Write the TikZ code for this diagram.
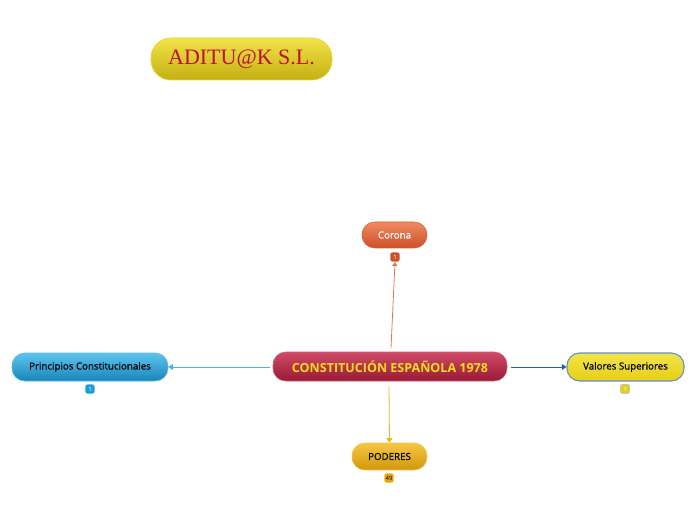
\documentclass[tikz,border=0pt]{standalone}
\usepackage{fontspec}
\setmainfont{Open Sans}
\newfontfamily\semib[FakeBold=0.7]{Open Sans}
\newfontfamily\serifont{Liberation Serif}
\usetikzlibrary{arrows.meta,shadings}
\definecolor{crim}{HTML}{B31E40}
\definecolor{crimtop}{HTML}{D04A66}
\definecolor{gold}{HTML}{F5DC1A}
\definecolor{orng}{HTML}{E3582C}
\definecolor{orngtop}{HTML}{F08A62}
\definecolor{bluel}{HTML}{1D9DD8}
\definecolor{bluetop}{HTML}{5CC4F0}
\definecolor{yel}{HTML}{E6CF14}
\definecolor{yeltop}{HTML}{F2E34A}
\definecolor{amb}{HTML}{E8A80C}
\definecolor{ambtop}{HTML}{F6C742}
\definecolor{dblue}{HTML}{1F5FB5}
\definecolor{logotxt}{HTML}{C01030}
\tikzset{
  topic/.style={rounded corners=9.5pt, inner sep=0pt, align=center},
  badge/.style={rounded corners=1.8pt, minimum width=7pt, minimum height=7pt, inner sep=0pt, font=\fontsize{4.5}{4.5}\selectfont},
  conn/.style={line width=0.6pt},
  subtxt/.style={font=\semib\fontsize{7.3}{7.3}\selectfont},
}
\begin{document}
\begin{tikzpicture}[x=0.75pt,y=-0.75pt]
\useasboundingbox (0,0) rectangle (696,520);
% logo
\node[topic, minimum width=181*0.75pt, minimum height=42*0.75pt, rounded corners=15pt,
  top color=yeltop, bottom color=yel!85!black, draw=yel!90!white, line width=0.5pt,
  font=\serifont\fontsize{16.5}{16.5}\selectfont, text=logotxt] (logo) at (241.5,59) {ADITU@K S.L.};
% central
\node[topic, minimum width=234*0.75pt, minimum height=29*0.75pt, top color=crimtop, bottom color=crim!85!black,
  draw=crim!70!white, line width=0.4pt, text=gold, font=\bfseries\fontsize{9.4}{9.4}\selectfont] (central) at (390,366.5) {CONSTITUCIÓN ESPAÑOLA 1978};
% Corona
\node[topic, minimum width=65*0.75pt, minimum height=26*0.75pt, top color=orngtop, bottom color=orng!90!black,
  draw=orng, line width=0.4pt, text=white, subtxt] (corona) at (394.5,235) {Corona};
\node[badge, fill=orng!90!black, text=white] (bcor) at (395,257) {1};
% Principios
\node[topic, minimum width=156*0.75pt, minimum height=28*0.75pt, top color=bluetop, bottom color=bluel!85!black,
  draw=bluel!70!white, line width=0.4pt, text=black, subtxt] (princ) at (90,367) {Principios Constitucionales};
\node[badge, fill=bluel, text=white] (bprinc) at (90,389) {1};
% Valores
\node[topic, minimum width=117*0.75pt, minimum height=28*0.75pt, top color=yeltop, bottom color=yel,
  draw=dblue!70!white, line width=0.8pt, text=black, subtxt] (valores) at (625.5,367) {Valores Superiores};
\node[badge, fill=yel, draw=dblue!40!white, line width=0.4pt, text=white] (bval) at (625,389) {1};
% Poderes
\node[topic, minimum width=75*0.75pt, minimum height=27*0.75pt, top color=ambtop, bottom color=amb!90!black,
  draw=amb!70!white, line width=0.4pt, text=black, subtxt] (poderes) at (389.5,456.5) {PODERES};
\node[badge, fill=amb, text=black] (bpod) at (389,478) {49};
% connectors
\coordinate (cTop) at (391,348);
\coordinate (cBot) at (389,387);
\coordinate (cLeft) at (270,367);
\coordinate (cRight) at (511,367);
\draw[conn, draw=orng!80!white, -{Triangle[length=3pt,width=4pt]}] (cTop) -- (bcor.south);
\draw[conn, draw=amb!80!yellow, -{Triangle[length=3.5pt,width=4.5pt]}] (cBot) -- (poderes.north);
\draw[conn, draw=bluel!80!white, -{Triangle[length=3.5pt,width=4.5pt]}] (cLeft) -- (princ.east);
\draw[conn, draw=dblue, -{Triangle[length=3.5pt,width=4.5pt]}] (cRight) -- (valores.west);
\end{tikzpicture}
\end{document}
